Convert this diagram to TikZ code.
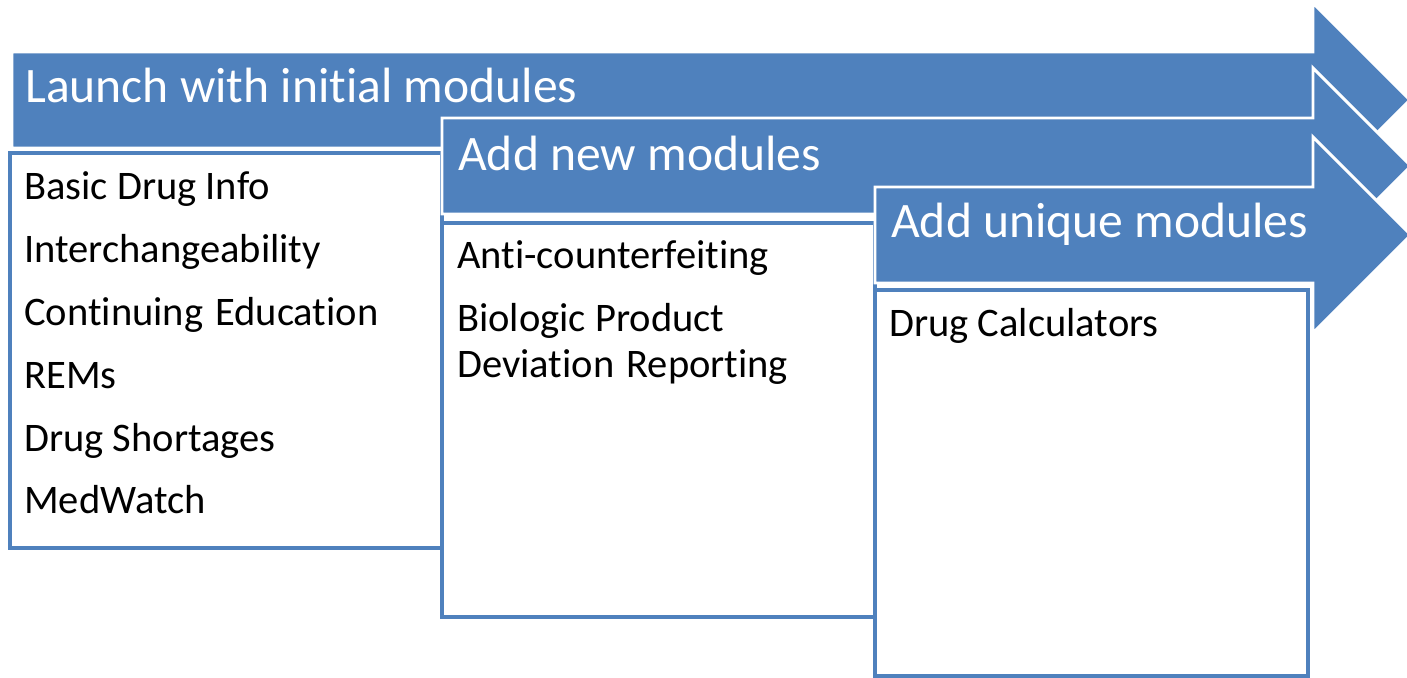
\documentclass[tikz,border=0pt]{standalone}
\usepackage{fontspec}
\setmainfont{Carlito}[RawFeature={-liga;-clig}]
\definecolor{obl}{HTML}{4F81BD}
\begin{document}
\begin{tikzpicture}[x=0.75pt,y=-0.75pt,
  arr/.style={fill=obl,draw=white,line width=2.2pt,line join=miter},
  box/.style={fill=white,draw=obl,line width=2.4pt},
  ttl/.style={anchor=base west,inner sep=0pt,text=white,font=\fontsize{37.2}{40}\selectfont},
  itm/.style={anchor=base west,inner sep=0pt,text=black,font=\fontsize{30.4}{34}\selectfont}]
\useasboundingbox (0,0) rectangle (1407,678);
\clip (0,0) rectangle (1407,678);
% arrow 1
\path[arr] (12,52) -- (1313,52) -- (1313,3) -- (1410,100) -- (1313,197) -- (1313,148) -- (12,148) -- cycle;
\node[ttl] (t1) at (25,102) {Launch with initial modules};
\path[box] (10,153) rectangle (442,548);
\node[itm] (a1) at (24,199) {Basic Drug Info};
\node[itm] (a2) at (24,262) {Interchangeability};
\node[itm] (a3) at (24,325) {Continuing\hspace{0.3em}Education};
\node[itm] (a4) at (24,388) {REMs};
\node[itm] (a5) at (24,451) {Drug Shortages};
\node[itm] (a6) at (24,513) {MedWatch};
% arrow 2
\path[arr] (442,118) -- (1313,118) -- (1313,68) -- (1411,166) -- (1313,264) -- (1313,214) -- (442,214) -- cycle;
\node[ttl] (t2) at (458,170) {Add new modules};
\path[box] (442,223) rectangle (875,617);
\node[itm] (b1) at (457,268) {Anti-counterfeiting};
\node[itm] (b2) at (457,331) {Biologic Product};
\node[itm] (b3) at (457,377) {Deviation\hspace{0.3em}Reporting};
% arrow 3
\path[arr] (875,187) -- (1313,187) -- (1313,137) -- (1411,235) -- (1313,333) -- (1313,283) -- (875,283) -- cycle;
\node[ttl] (t3) at (891,237) {Add unique modules};
\path[box] (875,290) rectangle (1308,676);
\node[itm] (c1) at (889,336) {Drug Calculators};
\end{tikzpicture}
\end{document}
